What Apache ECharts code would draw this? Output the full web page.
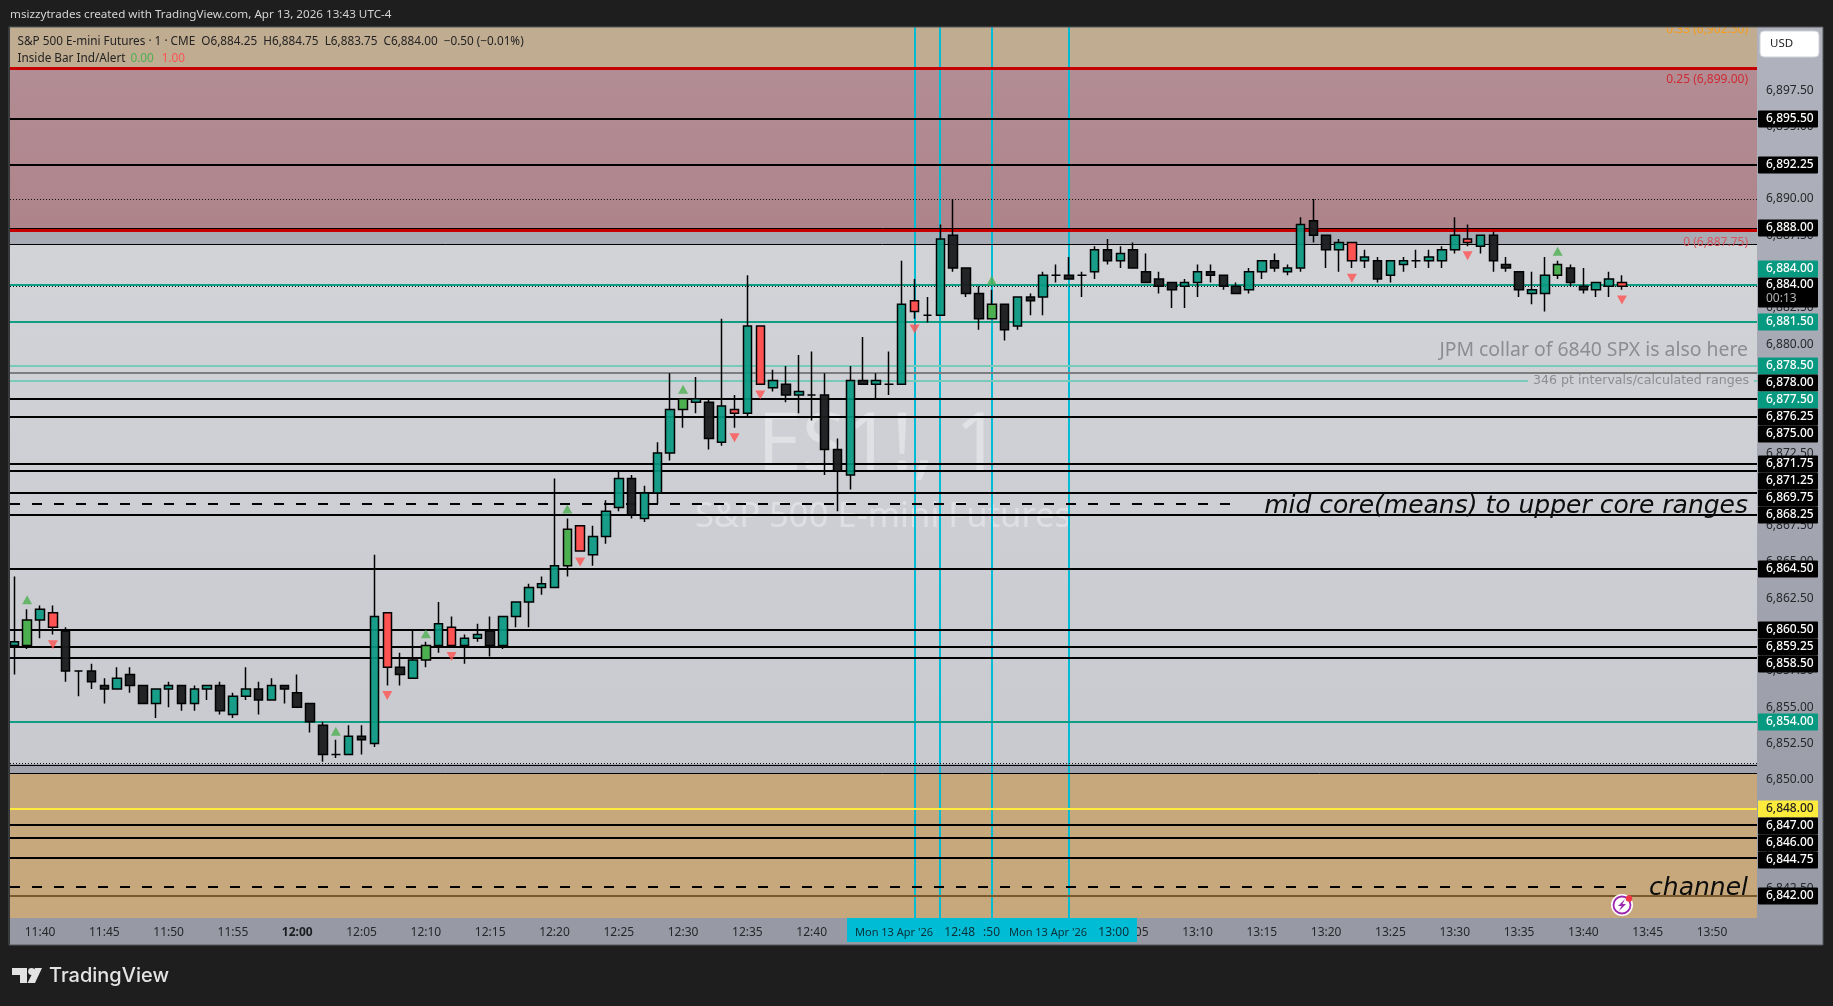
<!DOCTYPE html>
<html><head><meta charset="utf-8">
<style>html,body{margin:0;padding:0;background:#1e1e1e}#c{width:1833px;height:1006px}</style>
<script src="https://cdn.jsdelivr.net/npm/echarts@6/dist/echarts.min.js"></script>
</head><body><div id="c"></div>
<script>
// ---------- data ----------
const firstMinute = 11*60+38, categoryCount = 136;
const times = Array.from({length:categoryCount},(_,i)=>{const m=firstMinute+i;return Math.floor(m/60)+':'+String(m%60).padStart(2,'0');});

const opens = [
6859.25,6859.25,6861,6861.5,6860.25,6857.5,6857.5,6856.5,6856.25,6857.25,
6856.5,6855.25,6856.25,6856.5,6855.25,6856.25,6856.5,6854.5,6855.75,6856.25,
6855.5,6856.5,6856,6855.25,6853.75,6851.75,6851.75,6853,6852.5,6861.5,
6857.75,6857,6858.25,6859.25,6860.5,6859.25,6859.75,6860.25,6859.25,6861.25,
6862.25,6863.25,6863.25,6864.75,6867.5,6865.5,6866.75,6868.75,6870.75,6868,
6869.75,6872.5,6875.5,6876,6876,6873.25,6875.5,6875.25,6881.25,6877,
6877.25,6876.5,6876.5,6876.5,6872.75,6871,6877.5,6877.25,6877.25,6877.25,
6883,6882,6882,6887.5,6885.25,6883.5,6881.75,6882.75,6881.25,6883.25,
6883.25,6884.75,6884.75,6884.75,6885,6886.5,6885.75,6886.5,6885,6884.5,
6884.25,6884,6884.25,6885,6884.75,6884,6883.75,6885,6885.75,6885,
6885.25,6888.5,6887.5,6886.5,6887,6885.75,6885.75,6884.75,6885.5,6885.75,
6885.75,6885.75,6886.5,6887.25,6886.75,6887.5,6885.5,6885,6883.5,6883.5,
6884.75,6885.25,6884,6883.75,6884,6884.25];
const closes = [
6859.5,6861,6861.75,6860.5,6857.5,6857.5,6856.75,6856.25,6857,6856.5,
6855.25,6856.25,6856.5,6855.25,6856.25,6856.5,6854.75,6855.75,6856.25,6855.5,
6856.5,6856.25,6855,6854,6851.75,6851.75,6853,6852.75,6861.25,6857.75,
6857.25,6858.25,6859.25,6860.75,6859.25,6859.75,6860,6859.25,6861.25,6862.25,
6863.25,6863.5,6864.75,6867.25,6865.75,6866.75,6868.5,6870.75,6868.25,6869.75,
6872.5,6875.5,6876.25,6876.25,6873.5,6875.75,6875.25,6881.25,6877.25,6877.5,
6876.5,6876.75,6876.5,6872.75,6871.25,6877.5,6877.25,6877.5,6877.25,6882.75,
6882.25,6882,6887.25,6885.25,6883.5,6881.75,6882.75,6881,6883.25,6883,
6884.75,6884.75,6884.5,6884.75,6886.5,6885.75,6886.25,6885.25,6884.25,6884,
6883.75,6884.25,6885,6884.75,6884,6883.5,6885,6885.75,6885.25,6885.25,
6888.25,6887.5,6886.5,6887,6885.75,6886,6884.5,6885.75,6885.75,6885.75,
6886,6886.5,6887.5,6887,6887.5,6885.75,6885.25,6883.75,6883.75,6884.75,
6885.5,6884.25,6883.75,6884.25,6884.5,6884];
const lows = [
6857.25,6859,6859.75,6860,6856.75,6855.75,6856.25,6855.25,6856.25,6856,
6855.25,6854.25,6855,6854.75,6854.75,6855.5,6854.5,6854.25,6855.5,6854.5,
6855.5,6855.25,6855,6853.25,6851.25,6851.5,6851.75,6851.75,6852.25,6856.5,
6856.5,6857,6857.75,6858.75,6859.25,6858,6859.5,6858.5,6859,6860.5,
6860.5,6862.75,6863.25,6864,6865.75,6864.75,6866.25,6868.5,6868,6867.75,
6869,6872,6874.25,6875.25,6872.75,6873,6874.25,6875,6877.25,6876.75,
6876,6875.25,6874.75,6871,6868.5,6870,6877.25,6876.25,6876.5,6877.25,
6881.75,6881.5,6882,6885,6883.25,6881,6881.75,6880.25,6881,6882,
6882,6884.25,6884.5,6883.25,6884.5,6885.5,6885.25,6885.25,6884.25,6883.5,
6882.5,6882.5,6883.25,6884.25,6883.75,6883.5,6883.5,6884.5,6885,6884.75,
6885,6887,6885.25,6885,6885.25,6885.25,6884.25,6884.25,6885,6885.25,
6885.25,6885.25,6886.25,6886.75,6886.25,6885,6885,6883.25,6882.75,6882.25,
6884.5,6884,6883.5,6883.25,6883.25,6883.75];
const highs = [
6864,6861.75,6862,6862,6860.5,6857.5,6858,6857,6857.75,6857.75,
6856.5,6856.25,6856.75,6856.5,6856.5,6856.5,6856.75,6856,6857.75,6856.75,
6857,6856.5,6857.25,6855.25,6854,6852.75,6853.75,6853.75,6865.5,6861.5,
6858.75,6860.25,6859.5,6862.25,6861.25,6860,6860.75,6861.25,6861.25,6862.25,
6863.5,6864,6870.75,6868,6867.5,6867.5,6869.25,6871.25,6871,6870.25,
6873.25,6878,6876.25,6877.75,6876.25,6881.75,6876.5,6884.75,6881.25,6878.25,
6878.5,6879.25,6879.5,6878,6873.5,6878.5,6880.5,6878,6879.5,6885.75,
6884.5,6883.25,6888.25,6890,6885.25,6884,6883.75,6882.75,6883.25,6883.5,
6885,6885.5,6886,6885,6886.75,6887.25,6886.75,6887,6886.25,6885,
6884.25,6884.5,6885.5,6885.5,6884.75,6884.25,6885.25,6885.75,6886.25,6885.5,
6888.75,6890,6887.5,6887.25,6887,6886.5,6886,6885.75,6886,6886.5,
6886.5,6886.75,6888.75,6888.25,6887.5,6887.75,6886,6885,6885,6886,
6885.75,6885.5,6885.25,6884.25,6885,6884.75];
const insideUpBars = [1,25,32,43,52,76,120];
const insideDownBars = [3,29,34,44,56,58,70,104,113,125];
const upSignalPrices = [6862.4,6853.35,6860.05,6868.65,6876.9,6884.4,6886.4];
const downSignalPrices = [6859.3,6855.8,6858.5,6865,6873.55,6876.5,6881.05,6884.55,6886.1,6883.05];

const priceTicks = [6842.5,6845,6847.5,6850,6852.5,6855,6857.5,6860,6862.5,6865,6867.5,6870,6872.5,6875,6877.5,6880,6882.5,6885,6887.5,6890,6892.5,6895,6897.5];
const timeLabelsEvery = 5;

const zoneEdges = [6901.85,6899,6887.85,6886.88,6851.1,6850.5,6840.48];

const blackLevels = [6895.5,6892.35,6876.25,6875,6871.75,6871.25,6869.75,6868.25,6864.5,6860.35,6859.17,6858.41,6846.89,6846.02,6844.64];
const thinBlackLevels = [6888,6886.88,6851.05,6850.5];
const redLevels = [6899,6887.85];
const tealLevels = [6884.07,6881.5,6854];
const paleTealLevels = [6878.5,6877.5];
const grayLevels = [6878];
const yellowLevels = [6848];
const brownLevels = [6842];
const dottedLevels = [6890,6883.98,6851.15];
const dashedLevels = [6869,6842.64];
const dashedEndBars = [95,126];

const verticalTimes = ['12:54','12:50','12:48','13:00'];
const verticalDate = "Mon 13 Apr '26";

const tagPrices = [6895.5,6892.35,6888,6881.5,6878.5,6878,6877.5,6876.25,6875,6871.75,6871.25,6869.75,6868.25,6864.5,6860.35,6859.17,6858.41,6854,6848,6846.89,6846.02,6844.64,6842];
const tagTexts = ['6,895.50','6,892.25','6,888.00','6,881.50','6,878.50','6,878.00','6,877.50','6,876.25','6,875.00','6,871.75','6,871.25','6,869.75','6,868.25','6,864.50','6,860.50','6,859.25','6,858.50','6,854.00','6,848.00','6,847.00','6,846.00','6,844.75','6,842.00'];
const tagKinds = ['k','k','k','t','t','k','t','k','k','k','k','k','k','k','k','k','k','t','y','k','k','k','k'];
const lastPrice = 6884.07, lastText = '6,884.00', countdown = '00:13';

const noteTexts = ['0.33 (6,902.50)','0.25 (6,899.00)','0 (6,887.75)','JPM collar of 6840 SPX is also here','mid core(means) to upper core ranges','channel'];
const notePrices = [6901.7,6898.2,6886.98,6879.6,6868.85,6842.5];
const noteFonts = ['12px "Noto Sans"','12px "Noto Sans"','12px "Noto Sans"','19.4px "Noto Sans"','italic 25px "DejaVu Sans"','italic 25px "DejaVu Sans"'];
const noteColors = ['#f59c1a','#cf2a33','#d9535c','#8c8d93','#0c0c0c','#0c0c0c'];
const intervalNote = '346 pt intervals/calculated ranges';
const intervalNotePrice = 6877.5;

const title = 'msizzytrades created with TradingView.com, Apr 13, 2026 13:43 UTC-4';
const legend1 = 'S&P 500 E-mini Futures · 1 · CME  O6,884.25  H6,884.75  L6,883.75  C6,884.00  −0.50 (−0.01%)';
const legend2 = 'Inside Bar Ind/Alert';
const legendVals = ['0.00','1.00'];

// ---------- styles ----------
const UP='rgba(8,153,129,.92)', DOWN='rgba(28,30,32,.97)', GREEN='#4caf50', RED='#ff5252', FONT='"Noto Sans"';
const LG=(a,b)=>new echarts.graphic.LinearGradient(0,0,0,1,[{offset:0,color:a},{offset:1,color:b}]);
const zoneFills=['#c0ac91',LG('#b38d94','#ae848a'),'#a8abb4',LG('#d2d3d7','#c9cad0'),'#a1a3ad','#c6a87c'];

const lines=[];
const add=(arr,c,w,d,end)=>arr.forEach((v,i)=>lines.push({v,c,w,d,end:end?end[i]:null}));
add(paleTealLevels,'#78cbbb',2); add(grayLevels,'#7d7d7d',2);
add(tealLevels,'#0f9d84',2); add(yellowLevels,'#ffeb3b',2); add(brownLevels,'#7a5a2c',2);
add(redLevels,'#c60000',3); add(thinBlackLevels,'#000',1); add(dottedLevels,'#111',1,[1,2]);
add(blackLevels,'#000',2); add(dashedLevels,'#000',2,[10,12],dashedEndBars);

const candleData=opens.map((o,i)=>{
  const item={value:[o,closes[i],lows[i],highs[i]]};
  if(insideUpBars.includes(i)) item.itemStyle={color:GREEN,color0:GREEN};
  if(insideDownBars.includes(i)) item.itemStyle={color:RED,color0:RED};
  return item;
});

// price tag layout: each tag is pushed below the previous one when they would overlap
function tagCentres(api){
  const out=[];let prev=-1e9;
  tagPrices.forEach((p,i)=>{let y=Math.round(api.coord([0,p])[1]);if(y<prev+17)y=prev+17;out[i]=y;prev=y;});
  return out;
}
const rectRound=(x,y,w,h,f)=>({type:'rect',shape:{x,y,width:w,height:h,r:1},style:{fill:f}});
const txt=(t,x,y,f,font,al)=>({type:'text',style:{text:t,x,y,fill:f,font,align:al||'left',verticalAlign:'middle'}});

const option={
  animation:false,
  backgroundColor:'#1e1e1e',
  grid:{left:7.87,right:76,top:27,bottom:88,containLabel:false},
  xAxis:{type:'category',data:times,boundaryGap:true,z:1,
    axisLine:{show:false},axisTick:{show:false},splitLine:{show:false},
    axisLabel:{margin:9,fontFamily:FONT,fontSize:12,color:'#26272b',hideOverlap:false,
      interval:(i,v)=>Number(v.split(':')[1])%timeLabelsEvery===0,
      formatter:v=>v==='12:00'?'{b|12:00}':v,
      rich:{b:{fontWeight:'bold',fontFamily:FONT,fontSize:12,color:'#1b1c20'}}}},
  yAxis:{type:'value',position:'right',min:6840.48,max:6901.85,z:1,
    axisLine:{show:false},axisTick:{show:false},splitLine:{show:false},
    axisLabel:{margin:9,fontFamily:FONT,fontSize:12,color:'#26272b',customValues:priceTicks,
      formatter:v=>v.toLocaleString('en-US',{minimumFractionDigits:2,maximumFractionDigits:2})}},
  graphic:{elements:[
    {type:'rect',z:-2,silent:true,shape:{x:9,y:27,width:1814,height:918},style:{fill:new echarts.graphic.LinearGradient(0,0,0,1,[{offset:0,color:'#b0b3bd'},{offset:1,color:'#979aa5'}])}},
    {type:'rect',z:-1,silent:true,shape:{x:9,y:918,width:1814,height:27},style:{fill:'#9799a4'}},
    {type:'text',z:2,silent:true,style:{text:'ES1!, 1',x:879,y:447,fill:'rgba(255,255,255,.36)',font:'80px "Noto Sans"',align:'center',verticalAlign:'middle'}},
    {type:'text',z:2,silent:true,style:{text:'S&P 500 E-mini Futures',x:883,y:517,fill:'rgba(255,255,255,.36)',font:'34.6px "Noto Sans"',align:'center',verticalAlign:'middle'}},
    // outer frame
    {type:'rect',z:20,silent:true,shape:{x:0,y:0,width:1833,height:27},style:{fill:'#1e1e1e'}},
    {type:'rect',z:20,silent:true,shape:{x:0,y:0,width:10,height:1006},style:{fill:'#1e1e1e'}},
    {type:'rect',z:20,silent:true,shape:{x:9,y:27,width:1814,height:918},style:{fill:'none',stroke:'#55565a',lineWidth:1}},
    // texts
    {type:'text',z:21,silent:true,style:{text:title,x:10,y:15,fill:'#d4d4d4',font:'11.66px "Noto Sans"',verticalAlign:'middle'}},
    {type:'text',z:21,silent:true,style:{text:legend1,x:17.5,y:42,fill:'#232323',font:'11.76px "Noto Sans"',verticalAlign:'middle'}},
    {type:'text',z:21,silent:true,style:{text:legend2,x:17.5,y:59,fill:'#232323',font:'11.76px "Noto Sans"',verticalAlign:'middle'}},
    {type:'text',z:21,silent:true,style:{text:legendVals[0],x:130.5,y:59,fill:GREEN,font:'11.76px "Noto Sans"',verticalAlign:'middle'}},
    {type:'text',z:21,silent:true,style:{text:legendVals[1],x:161.7,y:59,fill:RED,font:'11.76px "Noto Sans"',verticalAlign:'middle'}},
    // USD button
    {type:'rect',z:21,silent:true,shape:{x:1760,y:31,width:59,height:26,r:4},style:{fill:'#fff',stroke:'#cfd1d8',lineWidth:1}},
    {type:'text',z:22,silent:true,style:{text:'USD',x:1770,y:44,fill:'#222',font:'11.5px "Noto Sans"',verticalAlign:'middle'}},
    // TradingView logo
    {type:'polygon',z:21,silent:true,shape:{points:[[12,968],[27,968],[27,983],[20,983],[20,975],[12,975]]},style:{fill:'#e3e3e3'}},
    {type:'circle',z:21,silent:true,shape:{cx:31.5,cy:971.5,r:3.4},style:{fill:'#e3e3e3'}},
    {type:'polygon',z:21,silent:true,shape:{points:[[35,968],[42,968],[35,983],[27.5,983]]},style:{fill:'#e3e3e3'}},
    {type:'text',z:21,silent:true,style:{text:'TradingView',x:49,y:976,fill:'#e3e3e3',font:'500 20px "Inter"',verticalAlign:'middle'}},
    // alert badge
    {type:'circle',z:21,silent:true,shape:{cx:1622,cy:905,r:11},style:{fill:'#fff'}},
    {type:'circle',z:22,silent:true,shape:{cx:1622,cy:905,r:8.5},style:{fill:'#fff',stroke:'#9c27b0',lineWidth:1.8}},
    {type:'polygon',z:23,silent:true,shape:{points:[[1625,899],[1618,906],[1621.5,906],[1619,911],[1626,904],[1622.5,904]]},style:{fill:'#9c27b0'}},
    {type:'circle',z:23,silent:true,shape:{cx:1629,cy:898.5,r:3.2},style:{fill:'#f23645'}}
  ]},
  series:[
    {type:'custom',name:'zones',z:1,silent:true,data:zoneFills.map((_,i)=>[0,zoneEdges[i],zoneEdges[i+1]]),
      encode:{x:0,y:[1,2]},
      renderItem:(p,api)=>{const c=p.coordSys,y1=api.coord([0,api.value(1)])[1],y2=api.coord([0,api.value(2)])[1];
        return {type:'rect',shape:{x:c.x,y:Math.round(y1),width:c.width,height:Math.round(y2)-Math.round(y1)},style:{fill:zoneFills[p.dataIndex]}};}},
    {type:'custom',name:'sessions',z:3,silent:true,data:verticalTimes.map(t=>[times.indexOf(t)]),encode:{x:0},
      renderItem:(p,api)=>{const c=p.coordSys,x=Math.round(api.coord([api.value(0),6860])[0]);
        return {type:'rect',shape:{x:x-1,y:c.y,width:2,height:c.height},style:{fill:'#00bcd4'}};}},
    {type:'custom',name:'levels',z:3,silent:true,data:lines.map(l=>[l.end==null?0:l.end,l.v]),encode:{x:0,y:1},
      renderItem:(p,api)=>{const c=p.coordSys,l=lines[p.dataIndex],y=Math.round(api.coord([0,l.v])[1]);
        const x2=l.end==null?c.x+c.width:api.coord([l.end,l.v])[0];
        const oy=l.w%2?0.5:0;
        return {type:'line',shape:{x1:l.d?10:c.x,y1:y+oy,x2,y2:y+oy},style:{stroke:l.c,lineWidth:l.w,lineDash:l.d||null}};}},
    {type:'candlestick',name:'ES1!',z:5,silent:true,barWidth:9,data:candleData,
      itemStyle:{color:UP,color0:DOWN,borderColor:'#000',borderColor0:'#000',borderWidth:1.5}},
    {type:'scatter',name:'inside up',z:6,silent:true,symbol:'triangle',symbolSize:[10,9],data:insideUpBars.map((b,i)=>[b,upSignalPrices[i]]),itemStyle:{color:GREEN}},
    {type:'scatter',name:'inside down',z:6,silent:true,symbol:'triangle',symbolRotate:180,symbolSize:[10,9],data:insideDownBars.map((b,i)=>[b,downSignalPrices[i]]),itemStyle:{color:RED}},
    {type:'custom',name:'notes',z:7,silent:true,data:noteTexts.map((_,i)=>[0,notePrices[i]]),encode:{x:0,y:1},
      renderItem:(p,api)=>{const c=p.coordSys,i=p.dataIndex,y=api.coord([0,notePrices[i]])[1];
        return txt(noteTexts[i],c.x+c.width-9,y,noteColors[i],noteFonts[i],'right');}},
    {type:'custom',name:'interval note',z:7,silent:true,data:[[0,intervalNotePrice]],encode:{x:0,y:1},
      renderItem:(p,api)=>{const c=p.coordSys,y=Math.round(api.coord([0,intervalNotePrice])[1]),r=c.x+c.width;
        return {type:'group',children:[
          {type:'rect',shape:{x:r-229,y:y-3,width:226,height:6},style:{fill:'#cfd0d4'}},
          txt(intervalNote,r-8,y,'#8c8d93','12.6px "DejaVu Sans"','right')]};}},
    {type:'custom',name:'price tags',z:8,silent:true,data:tagPrices.map(p=>[0,p]),encode:{x:0,y:1},
      renderItem:(p,api)=>{const c=p.coordSys,i=p.dataIndex,x=c.x+c.width+1,y=tagCentres(api)[i],k=tagKinds[i];
        const fill=k==='k'?'#000':k==='t'?'#089981':'#ffeb3b',col=k==='y'?'#222':'#fff';
        return {type:'group',children:[rectRound(x,y-8.5,60,17,fill),txt(tagTexts[i],x+8,y,col,'500 12px "Noto Sans"')]};}},
    {type:'custom',name:'last price',z:9,silent:true,data:[[0,lastPrice]],encode:{x:0,y:1},
      renderItem:(p,api)=>{const c=p.coordSys,x=c.x+c.width+1,y=Math.round(api.coord([0,lastPrice])[1]);
        return {type:'group',children:[
          rectRound(x,y-24.5,60,17,'#089981'),txt(lastText,x+8,y-16,'#fff','500 12px "Noto Sans"'),
          rectRound(x,y-7.5,60,30,'#000'),txt(lastText,x+8,y,'#fff','500 12px "Noto Sans"'),
          txt(countdown,x+8,y+14,'#b4b4b4','12px "Noto Sans"')]};}},
    {type:'custom',name:'time tags',z:10,silent:true,data:verticalTimes.map(t=>[times.indexOf(t)]),encode:{x:0},
      renderItem:(p,api)=>{const c=p.coordSys,x=Math.round(api.coord([api.value(0),6860])[0]),b=c.y+c.height,t=verticalTimes[p.dataIndex];
        return {type:'group',children:[
          {type:'rect',shape:{x:x-68,y:b,width:136,height:24},style:{fill:'#00bcd4'}},
          txt(verticalDate,x-60,b+15,'#0b2f38','11px "Noto Sans"'),
          txt(t,x+60,b+15,'#0b2f38','12px "Noto Sans"','right')]};}}
  ]
};
const chart=echarts.init(document.getElementById('c'),null,{renderer:'canvas',width:1833,height:1006});
chart.setOption(option);
</script></body></html>
